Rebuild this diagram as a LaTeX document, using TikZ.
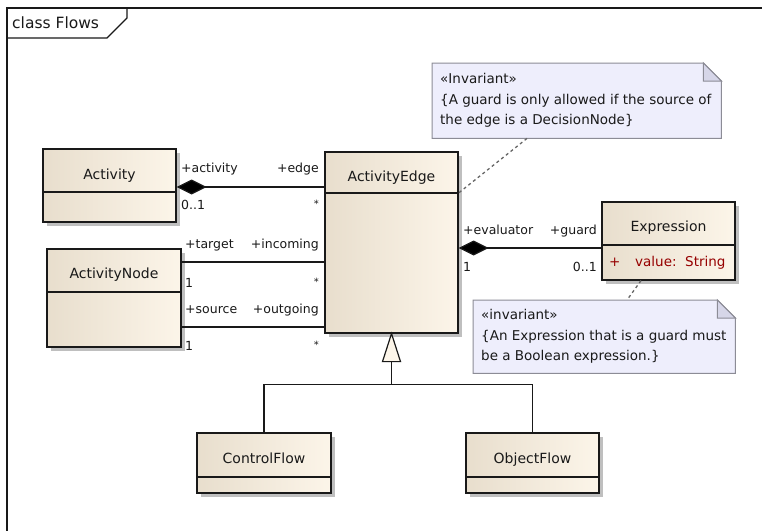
\documentclass[tikz,border=0pt]{standalone}
\usepackage{fontspec}
\setmainfont{DejaVu Sans}
\usetikzlibrary{arrows.meta,shadows,calc}
\definecolor{clsL}{RGB}{232,222,205}
\definecolor{clsR}{RGB}{252,245,233}
\definecolor{noteF}{RGB}{238,238,252}
\definecolor{noteE}{RGB}{140,140,150}
\definecolor{foldF}{RGB}{214,214,232}
\definecolor{attrC}{RGB}{150,0,0}
\definecolor{inkC}{RGB}{25,25,25}
\begin{document}
\begin{tikzpicture}[x=1pt,y=-1pt,line join=miter,
  cls/.style={rectangle,draw=inkC,line width=1.2pt,inner sep=0pt,
    left color=clsL,right color=clsR,
    drop shadow={shadow xshift=4pt,shadow yshift=-4pt,fill=black!25,opacity=1}},
  divider/.style={draw=inkC,line width=1.2pt},
  ttl/.style={font=\fontsize{14}{16}\selectfont,text=inkC,inner sep=0pt,anchor=base},
  lbl/.style={font=\fontsize{12.5}{14}\selectfont,text=inkC,inner sep=0pt},
  star/.style={font=\fontsize{10}{12}\selectfont,text=inkC,inner sep=0pt},
  assoc/.style={draw=inkC,line width=1.2pt},
  compo/.style={assoc,{Diamond[length=30pt,width=15pt,fill=black]}-},
  notebox/.style={draw=noteE,fill=noteF,line width=1pt},
  foldbox/.style={draw=noteE,fill=foldF,line width=1pt},
  notetxt/.style={font=\fontsize{13.5}{16}\selectfont,text=inkC,inner sep=0pt,anchor=base west},
  anchorline/.style={draw=black!60,line width=1.3pt,dash pattern=on 3pt off 3pt},
  frameline/.style={draw=inkC,line width=1.2pt}]
\useasboundingbox (0,0) rectangle (762,531);
% frame
\draw[frameline] (762,8) -- (7,8) -- (7,531);
\draw[frameline] (7,38) -- (107,38) -- (127,18) -- (127,8);
\node[inner sep=0pt,anchor=base west,font=\fontsize{15.5}{17}\selectfont,text=inkC] (fname) at (12,28) {class Flows};

% classes
\node[cls,minimum width=133,minimum height=73] (act) at (109.5,185.5) {};
\draw[divider] (act.west |- 0,192) -- (act.east |- 0,192);
\node[ttl] (actT) at (109.5,179) {Activity};

\node[cls,minimum width=134,minimum height=98] (anode) at (114,298) {};
\draw[divider] (anode.west |- 0,292) -- (anode.east |- 0,292);
\node[ttl] (anodeT) at (114,278) {ActivityNode};

\node[cls,minimum width=133,minimum height=181] (edge) at (391.5,242.5) {};
\draw[divider] (edge.west |- 0,193) -- (edge.east |- 0,193);
\node[ttl] (edgeT) at (391.5,181) {ActivityEdge};

\node[cls,minimum width=133,minimum height=78] (expr) at (668.5,241) {};
\draw[divider] (expr.west |- 0,245) -- (expr.east |- 0,245);
\node[ttl] (exprT) at (668.5,231) {Expression};
\node[lbl,anchor=base west,text=attrC,font=\fontsize{13.5}{15}\selectfont] (attrP) at (609,266) {+};
\node[lbl,anchor=base west,text=attrC,font=\fontsize{13.5}{15}\selectfont] (attrV) at (635,266) {value:\ \ String};

\node[cls,minimum width=134,minimum height=60] (cflow) at (264,463) {};
\draw[divider] (cflow.west |- 0,477) -- (cflow.east |- 0,477);
\node[ttl] (cflowT) at (264,463) {ControlFlow};

\node[cls,minimum width=133,minimum height=60] (oflow) at (532.5,463) {};
\draw[divider] (oflow.west |- 0,477) -- (oflow.east |- 0,477);
\node[ttl] (oflowT) at (532.5,463) {ObjectFlow};

% associations
\draw[compo] (act.east |- 0,187) -- (edge.west |- 0,187);
\node[lbl,anchor=base west] (r1) at (181,172) {+activity};
\node[lbl,anchor=base east] (r2) at (319,172) {+edge};
\node[lbl,anchor=base west] (m1) at (181,209) {0..1};
\node[star,anchor=base east] (m2) at (319,207) {*};

\draw[assoc] (anode.east |- 0,262) -- (edge.west |- 0,262);
\node[lbl,anchor=base west] (r3) at (185,248) {+target};
\node[lbl,anchor=base east] (r4) at (319,248) {+incoming};
\node[lbl,anchor=base west] (m3) at (185,287) {1};
\node[star,anchor=base east] (m4) at (319,285) {*};

\draw[assoc] (anode.east |- 0,327) -- (edge.west |- 0,327);
\node[lbl,anchor=base west] (r5) at (185,313) {+source};
\node[lbl,anchor=base east] (r6) at (319,313) {+outgoing};
\node[lbl,anchor=base west] (m5) at (185,350) {1};
\node[star,anchor=base east] (m6) at (319,348) {*};

\draw[compo] (edge.east |- 0,248) -- (expr.west |- 0,248);
\node[lbl,anchor=base west] (r7) at (463,234) {+evaluator};
\node[lbl,anchor=base east] (r8) at (597,234) {+guard};
\node[lbl,anchor=base west] (m7) at (463,271) {1};
\node[lbl,anchor=base east] (m8) at (597,271) {0..1};

% generalization
\coordinate (tb) at ($(edge.south)+(0,28)$);
\coordinate (jn) at ($(edge.south)+(0,51)$);
\draw[assoc] (tb) -- (jn);
\draw[assoc] (cflow.north) |- (jn) -| (oflow.north);
\draw[assoc,fill=clsR] (edge.south) -- ($(tb)+(-9,0)$) -- ($(tb)+(9,0)$) -- cycle;

% note 1
\node[minimum width=289,minimum height=75,inner sep=0pt,anchor=north west] (n1) at (432,63) {};
\draw[notebox] (n1.north west) -- ($(n1.north east)+(-18,0)$) -- ($(n1.north east)+(0,18)$) -- (n1.south east) -- (n1.south west) -- cycle;
\draw[foldbox] ($(n1.north east)+(-18,0)$) -- ($(n1.north east)+(-18,18)$) -- ($(n1.north east)+(0,18)$) -- cycle;
\node[notetxt] (n1a) at (440,83) {«Invariant»};
\node[notetxt] (n1b) at (440,104) {\{A guard is only allowed if the source of};
\node[notetxt] (n1c) at (440,124) {the edge is a DecisionNode\}};
\draw[anchorline] (n1.south -| 527,0) -- (edge.east |- 0,193);

% note 2
\node[minimum width=262,minimum height=73,inner sep=0pt,anchor=north west] (n2) at (473,300) {};
\draw[notebox] (n2.north west) -- ($(n2.north east)+(-18,0)$) -- ($(n2.north east)+(0,18)$) -- (n2.south east) -- (n2.south west) -- cycle;
\draw[foldbox] ($(n2.north east)+(-18,0)$) -- ($(n2.north east)+(-18,18)$) -- ($(n2.north east)+(0,18)$) -- cycle;
\node[notetxt] (n2a) at (481,319) {«invariant»};
\node[notetxt] (n2b) at (481,340) {\{An Expression that is a guard must};
\node[notetxt] (n2c) at (481,360) {be a Boolean expression.\}};
\draw[anchorline] (expr.south -| 641,0) -- (n2.north -| 627,0);
\end{tikzpicture}
\end{document}
